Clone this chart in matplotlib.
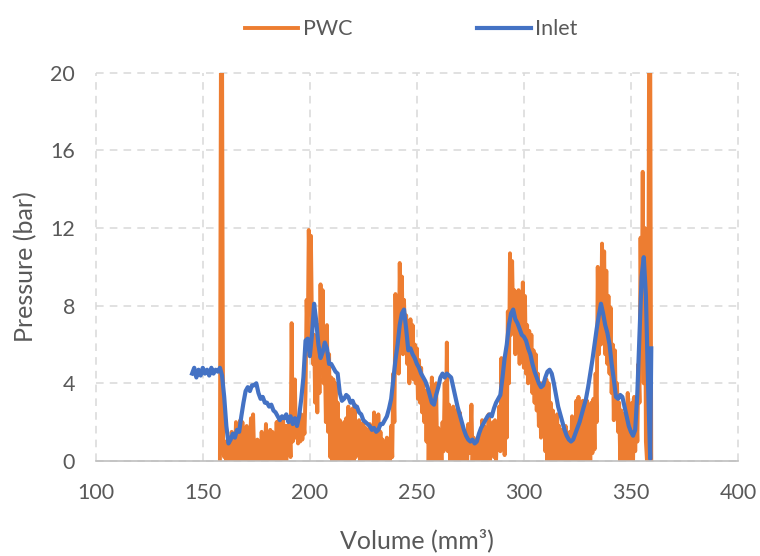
import numpy as np
import matplotlib
matplotlib.use("Agg")
import matplotlib.pyplot as plt

plt.rcParams['font.family'] = ['Lato', 'DejaVu Sans']

# PWC pressure, sampled every 0.5 mm3 from 158 to 359.5
pwc_vol = np.arange(158.0, 360.0, 0.5)
pwc = [
    0, 22, 21, 0.5, 0.2, 1.0, 0, 0.8, 0.3, 1.2,
    0, 1.5, 0.2, 1.1, 0, 2.0, 0.4, 1.6, 0, 2.1,
    0.3, 2.0, 0, 1.2, 0.5, 1.8, 0, 1.4, 0.6, 2.2,
    0, 2.4, 0.3, 1.0, 0, 1.1, 0.4, 0.8, 0, 1.5,
    0.3, 1.2, 0, 1.9, 0.2, 1.4, 0, 1.6, 0.4, 1.5,
    0, 1.3, 0.5, 2.0, 0, 2.1, 0.3, 1.5, 0, 2.2,
    0.5, 1.8, 0, 1.8, 0.6, 1.9, 0.2, 7.1, 1.0, 2.5,
    4.2, 1.2, 2.0, 0.9, 2.2, 1.0, 2.4, 1.1, 2.0, 1.4,
    3.5, 8.3, 6.0, 11.9, 9.0, 11.6, 7.0, 5.0, 6.5, 3.0,
    5.5, 2.5, 7.0, 3.5, 9.1, 5.0, 8.8, 4.0, 5.5, 2.0,
    7.0, 1.5, 5.5, 0.2, 4.3, 0, 4.2, 0.5, 4.0, 0,
    3.0, 0.5, 2.1, 0, 1.8, 0.3, 2.0, 0, 2.2, 0.4,
    2.8, 0, 2.5, 0.5, 2.7, 0, 2.9, 0.2, 2.0, 0.4,
    2.1, 0, 1.6, 0.3, 2.0, 0, 1.7, 0.5, 1.3, 0,
    1.9, 0.2, 1.5, 0, 2.5, 0.4, 2.2, 0, 2.4, 0.3,
    1.5, 0, 1.1, 0.5, 0.9, 0, 1.2, 0.3, 1.0, 0,
    1.8, 0.2, 4.5, 2.0, 8.6, 5.0, 7.0, 4.5, 10.2, 6.0,
    9.5, 5.5, 8.3, 6.0, 7.5, 5.0, 6.3, 4.0, 7.3, 4.5,
    7.0, 4.2, 6.0, 4.0, 5.8, 3.2, 5.2, 3.0, 4.8, 2.5,
    4.0, 2.0, 3.6, 1.0, 3.4, 0, 2.5, 0.4, 4.3, 0,
    3.5, 0.5, 4.0, 0, 1.7, 0.3, 1.5, 0, 2.0, 0.5,
    4.0, 1.0, 6.1, 0.5, 2.9, 0, 2.5, 0.6, 2.8, 0,
    2.6, 0.3, 2.2, 0, 2.5, 0.4, 1.5, 0, 1.3, 0.2,
    1.5, 0, 1.9, 0.4, 1.2, 2.9, 0, 1.2, 0.3, 1.0,
    0, 1.1, 0.4, 1.2, 0, 2.1, 0.5, 1.8, 0, 1.5,
    0.3, 2.4, 0, 1.8, 0.5, 2.0, 0.2, 2.1, 0, 1.8,
    0.6, 2.8, 0.5, 5.3, 1.5, 4.5, 0.3, 5.2, 1.2, 7.7,
    4.0, 10.7, 6.5, 10.3, 7.0, 8.8, 5.5, 8.5, 6.0, 8.8,
    5.0, 8.6, 5.5, 9.2, 4.8, 8.5, 4.5, 7.0, 4.0, 6.7,
    4.2, 6.5, 3.5, 5.7, 3.0, 5.5, 2.6, 4.5, 1.8, 4.0,
    1.2, 4.0, 1.5, 3.5, 0.5, 4.2, 0, 4.0, 0.5, 3.0,
    0, 2.6, 0.3, 2.0, 0, 2.4, 0.4, 1.8, 0, 1.6,
    0.3, 1.1, 0, 1.8, 0.5, 1.2, 0, 1.5, 0.2, 2.3,
    0, 2.0, 0.5, 3.1, 0, 3.3, 0.4, 2.8, 0, 3.1,
    0.5, 2.5, 0, 3.1, 0.3, 2.8, 0, 3.0, 0.4, 3.2,
    0.6, 4.5, 2.0, 10.0, 5.5, 9.0, 6.0, 11.2, 7.0, 10.8,
    5.5, 9.8, 5.0, 8.5, 4.5, 7.9, 3.5, 6.0, 2.1, 5.7,
    2.5, 4.0, 1.5, 3.0, 0, 2.6, 0.3, 2.4, 0, 2.0,
    0.5, 3.5, 0, 2.5, 0.4, 3.0, 0, 3.3, 0.5, 2.8,
    1.0, 5.0, 3.0, 11.5, 6.0, 14.9, 4.0, 12.0, 1.0, 0,
    3.0, 22, 22, 0,
]

# Inlet pressure, every 1 mm3 from 145 to 359, plus the last reading
inlet_vol = np.append(np.arange(145.0, 360.0, 1.0), 359.5)
inlet = [
    4.5, 4.8, 4.3, 4.7, 4.4, 4.8, 4.5, 4.7, 4.4, 4.8,
    4.5, 4.7, 4.6, 4.8, 4.4, 3.3, 1.8, 0.9, 1.1, 1.4,
    1.2, 1.6, 1.5, 2.3, 3.0, 3.6, 3.8, 3.6, 3.9, 3.9,
    4.0, 3.5, 3.2, 3.3, 3.0, 3.0, 2.8, 2.9, 2.6, 2.5,
    2.3, 2.1, 2.3, 2.2, 2.4, 2.0, 2.3, 1.9, 2.2, 1.8,
    2.3, 3.2, 4.3, 6.2, 6.3, 5.4, 6.5, 8.1, 7.2, 6.0,
    5.3, 5.6, 6.1, 5.8, 5.0, 5.0, 4.8, 4.6, 4.5, 3.5,
    3.1, 3.2, 3.4, 3.3, 3.0, 3.1, 2.8, 2.8, 2.5, 2.4,
    2.1, 2.0, 1.9, 1.8, 1.6, 1.7, 1.5, 1.6, 1.9, 1.9,
    2.1, 2.3, 2.7, 3.2, 4.2, 5.2, 6.0, 7.0, 7.6, 7.8,
    6.8, 5.7, 5.8, 5.5, 5.3, 5.0, 4.8, 4.5, 4.3, 4.1,
    3.8, 3.4, 3.0, 2.9, 3.4, 3.8, 4.3, 4.5, 4.3, 4.5,
    4.4, 4.3, 3.8, 3.3, 2.8, 2.4, 2.0, 1.6, 1.3, 1.1,
    1.0, 1.1, 0.9, 1.0, 1.4, 1.7, 1.9, 2.1, 2.3, 2.4,
    2.3, 2.7, 3.0, 3.2, 3.4, 4.3, 5.3, 6.0, 7.0, 7.6,
    7.8, 7.3, 7.1, 6.8, 6.5, 6.4, 6.2, 5.8, 5.5, 5.0,
    4.6, 4.3, 4.0, 3.8, 3.9, 4.3, 4.6, 4.7, 4.5, 4.0,
    3.4, 2.8, 2.4, 2.0, 1.6, 1.3, 1.1, 1.0, 1.1, 1.4,
    1.7, 2.0, 2.4, 2.8, 3.2, 3.8, 4.5, 5.2, 6.0, 6.8,
    7.5, 8.1, 7.6, 7.0, 6.6, 6.0, 5.0, 4.2, 3.3, 3.2,
    3.4, 3.3, 2.8, 2.3, 1.8, 1.5, 1.3, 1.6, 3.5, 6.5,
    9.5, 10.5, 8.5, 4.0, 0.1, 5.8,
]

x_ticks = [100, 150, 200, 250, 300, 350, 400]
y_ticks = [0, 4, 8, 12, 16, 20]

fig = plt.figure(figsize=(7.6, 5.56), dpi=100)
ax = fig.add_axes([0.126, 0.171, 0.845, 0.698])

ax.plot(pwc_vol, pwc, color='#ED7D31', lw=2.8, label='PWC')
ax.plot(inlet_vol, inlet, color='#4472C4', lw=3.0, label='Inlet')

ax.set_xlim(100, 400)
ax.set_ylim(0, 20)
ax.set_xticks(x_ticks)
ax.set_yticks(y_ticks)
ax.tick_params(length=0, labelsize=15.5, labelcolor='#595959')
ax.tick_params(axis='x', pad=16)
ax.tick_params(axis='y', pad=15)
ax.grid(True, color='#D9D9D9', linestyle=(0, (5, 4)), lw=1.1)
ax.set_axisbelow(True)
for side in ['top', 'right', 'left']:
    ax.spines[side].set_visible(False)
ax.spines['bottom'].set_color('#BFBFBF')
ax.spines['bottom'].set_linewidth(1.2)
for gl in ax.get_xgridlines() + ax.get_ygridlines():
    gl.set_clip_on(False)

ax.set_xlabel('Volume (mm³)', fontsize=18, color='#595959', labelpad=18)
ax.set_ylabel('Pressure (bar)', fontsize=18, color='#595959', labelpad=9)

fig.legend(loc='upper center', bbox_to_anchor=(0.541, 1.0), ncol=2,
           frameon=False, fontsize=15.5, handlelength=2.5, handletextpad=0.2,
           columnspacing=5.8, labelcolor='#595959')

fig.savefig('out.png', dpi=100)
